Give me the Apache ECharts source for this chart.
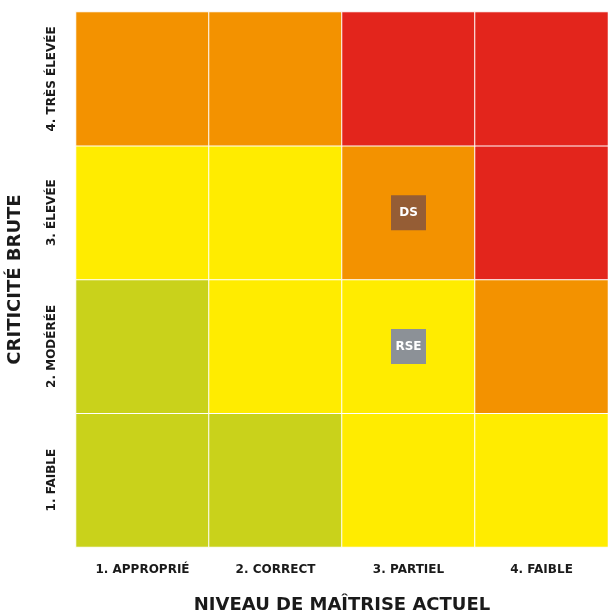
<!DOCTYPE html>
<html>
<head>
<meta charset="utf-8">
<script src="https://cdn.jsdelivr.net/npm/echarts@6/dist/echarts.min.js"></script>
<style>
  html, body { margin: 0; padding: 0; background: #ffffff; }
  #chart { width: 608px; height: 614px; }
</style>
</head>
<body>
<div id="chart"></div>
<script>
  // axes
  const maitrise = ['1. APPROPRIÉ', '2. CORRECT', '3. PARTIEL', '4. FAIBLE']
  const criticite = ['1. FAIBLE', '2. MODÉRÉE', '3. ÉLEVÉE', '4. TRÈS ÉLEVÉE']
  // risk level of each cell, one row per criticité (bottom to top)
  const niveaux = [
    [1, 1, 2, 2],
    [1, 2, 2, 3],
    [2, 2, 3, 4],
    [3, 3, 4, 4]
  ]
  const couleursNiveau = { 1: '#c9d21b', 2: '#ffec00', 3: '#f39200', 4: '#e3251c' }
  // positioned risks
  const risques = ['DS', 'RSE']
  const risquesMaitrise = [2, 2]
  const risquesCriticite = [2, 1]
  const risquesCouleur = ['#955d35', '#8c9197']

  const font = '"DejaVu Sans"'
  const cells = []
  niveaux.forEach(function (row, y) {
    row.forEach(function (lvl, x) {
      cells.push({ value: [x, y, lvl], itemStyle: { color: couleursNiveau[lvl] } })
    })
  })
  const points = risques.map(function (name, i) {
    return {
      name: name,
      value: [risquesMaitrise[i], risquesCriticite[i]],
      itemStyle: { color: risquesCouleur[i], opacity: 1 }
    }
  })

  const chart = echarts.init(document.getElementById('chart'))
  chart.setOption({
    animation: false,
    grid: { left: 76, right: 0, top: 12, bottom: 67, outerBoundsMode: 'none' },
    xAxis: {
      type: 'category',
      data: maitrise,
      name: 'NIVEAU DE MAÎTRISE ACTUEL',
      nameLocation: 'middle',
      nameGap: 49,
      nameTextStyle: { fontFamily: font, fontWeight: 'bold', fontSize: 18, color: '#1a1a1a' },
      axisLine: { show: false },
      axisTick: { show: false },
      axisLabel: { interval: 0, margin: 17, fontFamily: font, fontWeight: 'bold', fontSize: 12, color: '#1a1a1a' },
      splitLine: { show: false }
    },
    yAxis: {
      type: 'category',
      data: criticite,
      name: 'CRITICITÉ BRUTE',
      nameLocation: 'middle',
      nameGap: 52,
      nameRotate: 90,
      nameTextStyle: { fontFamily: font, fontWeight: 'bold', fontSize: 18, color: '#1a1a1a' },
      axisLine: { show: false },
      axisTick: { show: false },
      axisLabel: { interval: 0, rotate: 90, margin: 18, fontFamily: font, fontWeight: 'bold', fontSize: 12, color: '#1a1a1a' },
      splitLine: { show: false }
    },
    series: [
      {
        type: 'heatmap',
        data: cells,
        itemStyle: { borderColor: '#ffffff', borderWidth: 1 },
        emphasis: { disabled: true }
      },
      {
        type: 'scatter',
        data: points,
        symbol: 'rect',
        symbolSize: 35,
        z: 5,
        emphasis: { disabled: true },
        label: {
          show: true,
          position: 'inside',
          formatter: '{b}',
          fontFamily: font,
          fontWeight: 'bold',
          fontSize: 12,
          color: '#ffffff'
        }
      }
    ]
  })
</script>
</body>
</html>
